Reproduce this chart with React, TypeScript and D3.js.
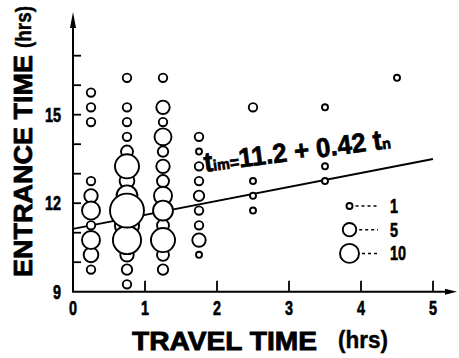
import React from "react";
import * as d3 from "d3";

const travelTimes = [0.25, 0.75, 1.25, 1.75, 2.5, 3.5, 4.5];
const entranceCol1 = [15.75, 15.25, 14.75, 12.75, 12.25, 11.75, 11.25, 10.75, 10.25, 9.75];
const countCol1 = [2, 2, 2, 2, 5, 9, 2, 9, 6, 2];
const entranceCol2 = [16.25, 15.25, 14.75, 14.25, 13.75, 13.25, 12.75, 12.25, 11.75, 11.25, 10.75, 10.25, 9.75, 9.25];
const countCol2 = [2, 2, 2, 2, 4, 16, 6, 12, 32, 16, 22, 5, 3, 2];
const entranceCol3 = [16.25, 15.25, 14.75, 14.25, 13.75, 13.25, 12.75, 12.25, 11.75, 11.25, 10.75, 10.25, 9.75];
const countCol3 = [2, 5, 2, 8, 3, 5, 4, 9, 11, 4, 16, 4, 3];
const entranceCol4 = [14.25, 13.75, 13.25, 12.75, 12.25, 11.75, 11.25, 10.75, 10.25];
const countCol4 = [2, 1, 2, 2, 3, 2, 2, 5, 1];
const entranceCol5 = [15.25, 12.75, 12.25, 11.75];
const countCol5 = [2, 1, 1, 1];
const entranceCol6 = [15.25, 13.25, 12.75];
const countCol6 = [1, 1, 1];
const entranceCol7 = [16.25];
const countCol7 = [1];

const entranceCols = [entranceCol1, entranceCol2, entranceCol3, entranceCol4, entranceCol5, entranceCol6, entranceCol7];
const countCols = [countCol1, countCol2, countCol3, countCol4, countCol5, countCol6, countCol7];

const lineX = [0, 5];
const lineY = [11.13, 13.5];

const xTicks = [0, 1, 2, 3, 4, 5];
const yTicks = [10, 11, 12, 13, 14, 15, 16, 17];
const yTickLabels = [9, 12, 15];
const legendCounts = [1, 5, 10];

const FONT = "'Liberation Sans', Arial, sans-serif";

export default function App() {
  const x = d3.scaleLinear().domain([0, 5]).range([73, 433]);
  const y = d3.scaleLinear().domain([9, 17]).range([291.7, 55.7]);
  const r = d3.scaleSqrt().domain([0, 10]).range([0, 9.5]);

  const points: { tx: number; te: number; n: number }[] = [];
  travelTimes.forEach((tx, i) => {
    entranceCols[i].forEach((te, j) => {
      points.push({ tx, te, n: countCols[i][j] });
    });
  });
  points.sort((a, b) => a.n - b.n);

  const line = d3
    .line<number>()
    .x((_, i) => x(lineX[i]))
    .y((d) => y(d));

  const x0 = x(0);
  const y0 = y(9);

  return (
    <svg width={459} height={358} style={{ position: "absolute", left: 0, top: 0, background: "#fff" }}>
      <rect x={0} y={0} width={459} height={358} fill="#fff" />
      {/* regression line */}
      <path d={line(lineY) || ""} fill="none" stroke="#000" strokeWidth={1.9} />

      {/* bubbles */}
      {points.map((p, i) => (
        <circle key={i} cx={x(p.tx)} cy={y(p.te)} r={r(p.n)} fill="#fff" stroke="#000" strokeWidth={1.9} />
      ))}

      {/* axes */}
      <line x1={x0} y1={y0} x2={x0} y2={24} stroke="#000" strokeWidth={2} />
      <path d={`M${x0},12 L${x0 - 3},28 L${x0 + 3},28 Z`} fill="#000" />
      <line x1={x0 - 1} y1={y0} x2={448} y2={y0} stroke="#000" strokeWidth={2} />
      <path d={`M457,${y0} L445,${y0 - 3} L445,${y0 + 3} Z`} fill="#000" />

      {yTicks.map((t) => (
        <line key={t} x1={x0} x2={x0 + 8} y1={y(t)} y2={y(t)} stroke="#000" strokeWidth={1.8} />
      ))}
      {xTicks.filter((t) => t > 0).map((t) => (
        <line key={t} x1={x(t)} x2={x(t)} y1={y0} y2={y0 - 11} stroke="#000" strokeWidth={1.8} />
      ))}

      {/* tick labels */}
      {xTicks.map((t) => (
        <text key={t} transform={`translate(${x(t)},${315}) scale(0.72,1)`} textAnchor="middle"
          fontFamily={FONT} fontWeight="bold" fontSize={20} stroke="#000" strokeWidth={0.6}>{t}</text>
      ))}
      {yTickLabels.map((t) => (
        <text key={t} transform={`translate(61,${y(t) + 7}) scale(0.72,1)`} textAnchor="end"
          fontFamily={FONT} fontWeight="bold" fontSize={20} stroke="#000" strokeWidth={0.6}>{t}</text>
      ))}

      {/* axis titles */}
      <text transform="translate(32,277) rotate(-90)" fontFamily={FONT} fontWeight="bold" fontSize={26}
        textLength={222} lengthAdjust="spacingAndGlyphs" stroke="#000" strokeWidth={0.8}>ENTRANCE TIME</text>
      <text transform="translate(31,48) rotate(-90)" fontFamily={FONT} fontWeight="bold" fontSize={22}
        textLength={42} lengthAdjust="spacingAndGlyphs" stroke="#000" strokeWidth={0.4}>(hrs)</text>
      <text x={132} y={350} fontFamily={FONT} fontWeight="bold" fontSize={25}
        textLength={185} lengthAdjust="spacingAndGlyphs" stroke="#000" strokeWidth={0.8}>TRAVEL TIME</text>
      <text x={338} y={348} fontFamily={FONT} fontWeight="bold" fontSize={23}
        textLength={50} lengthAdjust="spacingAndGlyphs" stroke="#000" strokeWidth={0.4}>(hrs)</text>

      {/* equation */}
      <text transform="translate(205,172) rotate(-7.3)" fontFamily={FONT} fontWeight="bold"
        textLength={188} lengthAdjust="spacingAndGlyphs" stroke="#000" strokeWidth={0.7}>
        <tspan fontSize={28}>t</tspan>
        <tspan fontSize={15}>im</tspan>
        <tspan fontSize={17}>=</tspan>
        <tspan fontSize={27}>11.2 + 0.42 </tspan>
        <tspan fontSize={28}>t</tspan>
        <tspan fontSize={15}>n</tspan>
      </text>

      {/* legend */}
      {legendCounts.map((n, i) => {
        const cy = 206 + i * 23.7;
        const cx = 349.5;
        return (
          <g key={n}>
            <circle cx={cx} cy={cy} r={r(n)} fill="#fff" stroke="#000" strokeWidth={1.9} />
            <line x1={cx + r(n) + 3} x2={378} y1={cy} y2={cy} stroke="#000" strokeWidth={1.5} strokeDasharray="3,3" />
            <text transform={`translate(390,${cy + 7}) scale(0.72,1)`} fontFamily={FONT} fontWeight="bold"
              fontSize={20} stroke="#000" strokeWidth={0.6}>{n}</text>
          </g>
        );
      })}
    </svg>
  );
}
